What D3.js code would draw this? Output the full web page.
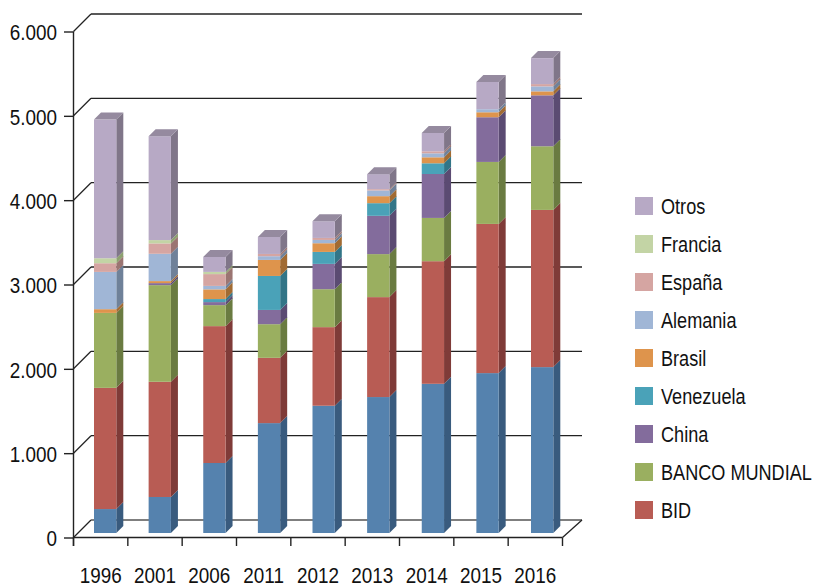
<!DOCTYPE html>
<html><head><meta charset="utf-8">
<script src="https://cdn.jsdelivr.net/npm/d3@7"></script>
<style>
html,body{margin:0;padding:0;background:#fff}
svg{display:block}
text{font-family:"Liberation Sans",Arial,sans-serif;fill:#111;font-size:22.5px}
</style></head><body><svg id="c" width="813" height="584"></svg>
<script>
const categories=["1996","2001","2006","2011","2012","2013","2014","2015","2016"];
const seriesNames=["Serie1","BID","BANCO MUNDIAL","China","Venezuela","Brasil","Alemania","España","Francia","Otros"];
const serie1=[284,427,830,1303,1509,1612,1769,1896,1967];
const bid=[1437,1366,1623,774,932,1185,1454,1769,1864];
const bancoMundial=[889,1146,249,399,450,510,513,735,755];
const china=[0,24,36,169,300,454,521,530,604];
const venezuela=[0,0,36,403,142,150,127,0,0];
const brasil=[44,24,115,190,103,83,71,59,47];
const alemania=[442,324,41,44,39,68,47,36,59];
const espana=[103,123,140,27,24,15,24,0,27];
const francia=[59,39,26,0,0,0,0,0,0];
const otros=[1644,1232,178,201,198,178,217,324,308];
const yTicks=[0,1000,2000,3000,4000,5000,6000];
const frontColors=["#5582ae","#b85c54","#9aaf60","#836c9c","#4aa2b8","#de944c","#a0b6d6","#d5a5a2","#c3d4a5","#b7a9c5"];
const sideColors=["#395b7e","#7f3b38","#6a7b41","#5b4b72","#327587","#a16b33","#6f8199","#9b7572","#8da070","#807689"];
const topColor="#958a9f";
const allSeries=[serie1,bid,bancoMundial,china,venezuela,brasil,alemania,espana,francia,otros];

const svg=d3.select("#c");
const y=d3.scaleLinear().domain([0,6000]).range([537.5,31.5]);
const x=d3.scaleBand().domain(categories).range([73.5,562.5]);
const barLeft=d3.scalePoint().domain(categories).range([94,531]);
const barW=22.3,dep=7,lift=4.5,wallX=17.5,wallY=17.5;
const lineC="#222",narrow=0.84,legendNarrow=0.805;

const grid=svg.append("g");
yTicks.forEach(t=>{
  const yy=y(t);
  grid.append("path").attr("d",`M73.5,${yy}L${73.5+wallX},${yy-wallY}`).attr("stroke",lineC).attr("fill","none").attr("stroke-width",1.3);
  grid.append("line").attr("x1",73.5+wallX).attr("x2",582).attr("y1",yy-wallY).attr("y2",yy-wallY)
    .attr("stroke",t===0?"#555":lineC).attr("stroke-width",1.3);
});
grid.append("path").attr("d",`M562.5,${y(0)}L582,${y(0)-wallY}`).attr("stroke",lineC).attr("fill","none").attr("stroke-width",1.3);

const fmt=d3.formatLocale({decimal:",",thousands:".",grouping:[3],currency:["",""]}).format(",");
const ax=svg.append("g").attr("transform","translate(73.5,0)")
  .call(d3.axisLeft(y).tickValues(yTicks).tickFormat(fmt).tickSize(9.5).tickPadding(7));
const bx=svg.append("g").attr("transform",`translate(0,${y(0)})`)
  .call(d3.axisBottom(x).tickSize(0).tickPadding(29));
[...categories.map(c=>x(c)),562.5].forEach(p=>{
  bx.append("line").attr("x1",p).attr("x2",p).attr("y1",0).attr("y2",8.5).attr("stroke",lineC).attr("stroke-width",1.4);
});
[ax,bx].forEach(g=>{
  g.selectAll(".domain").attr("stroke",lineC).attr("stroke-width",1.4);
  g.selectAll(".tick line").attr("stroke",lineC).attr("stroke-width",1.4);
  g.selectAll("text").attr("font-size",null).attr("font-family",null);
});
ax.selectAll(".tick text").attr("dy",null).attr("x",null).attr("y",null)
  .attr("text-anchor","end").attr("transform",`translate(-16.5,8.2) scale(${narrow},1)`);
bx.selectAll(".tick text").attr("dy",null).attr("y",null)
  .attr("text-anchor","middle").attr("transform",`translate(0,45.2) scale(${narrow},1)`);
ax.select(".domain").attr("d",`M0,${y(6000)}V${y(0)+8.5}`);
bx.select(".domain").attr("d","M73.5,0H562.5");

const bars=svg.append("g");
categories.forEach((c,i)=>{
  let acc=0;
  const g=bars.append("g");
  const left=barLeft(c);
  allSeries.forEach((s,k)=>{
    const v=s[i];
    const b=y(acc)-lift,t=y(acc+v)-lift;
    acc+=v;
    if(v<=0)return;
    g.append("path").attr("d",`M${left+barW},${b}L${left+barW+dep},${b-dep}L${left+barW+dep},${t-dep}L${left+barW},${t}Z`).attr("fill",sideColors[k]);
    g.append("rect").attr("x",left).attr("y",t).attr("width",barW).attr("height",b-t).attr("fill",frontColors[k]);
  });
  const t=y(acc)-lift;
  g.append("path").attr("d",`M${left},${t}L${left+dep},${t-dep}L${left+barW+dep},${t-dep}L${left+barW},${t}Z`).attr("fill",topColor);
});

const legendOrder=[9,8,7,6,5,4,3,2,1];
const legendY=d3.scalePoint().domain(legendOrder).range([197,501]);
const leg=svg.append("g");
legendOrder.forEach(k=>{
  leg.append("rect").attr("x",635).attr("y",legendY(k)).attr("width",18).attr("height",18).attr("fill",frontColors[k]);
  leg.append("text").attr("transform",`translate(661,${legendY(k)+17}) scale(${legendNarrow},1)`).text(seriesNames[k]);
});
</script></body></html>
